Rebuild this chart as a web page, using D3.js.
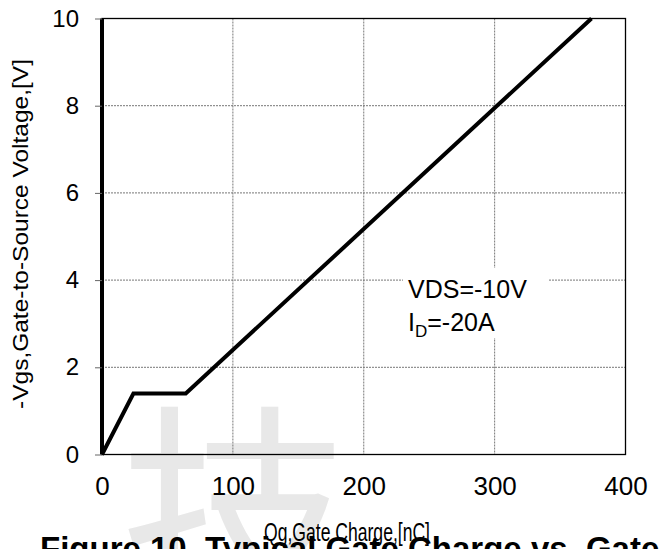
<!DOCTYPE html>
<html>
<head>
<meta charset="utf-8">
<script src="https://cdn.jsdelivr.net/npm/d3@7"></script>
<style>
  body { margin: 0; background: #fff; }
  text { font-family: "Liberation Sans", Arial, sans-serif; fill: #000; }
</style>
</head>
<body>
<svg width="666" height="549"></svg>
<script>

// Datos
let qg = [0, 0, 24, 64, 374]
let vgs = [10, 0, 1.4, 1.4, 10]
let xTicks = [0, 100, 200, 300, 400]
let yTicks = [0, 2, 4, 6, 8, 10]

let puntos = qg.map((q, i) => ({q: q, v: vgs[i]}))

let svg = d3.select('svg')

/* Marca de agua */
svg.append('text')
  .attr('x', 120).attr('y', 600)
  .style('font-family', '"Noto Sans CJK SC"')
  .style('font-size', '230px')
  .style('fill', '#e8e8e8')
  .text('技')

let m = {left: 102, right: 625.5, top: 18.5, bottom: 454.5}

let x = d3.scaleLinear().domain([0, 400]).range([m.left, m.right])
let y = d3.scaleLinear().domain([0, 10]).range([m.bottom, m.top])

let g = svg.append('g')

// rejilla
g.selectAll('line.gx')
  .data(xTicks.slice(1, -1)).enter().append('line')
  .attr('x1', d => x(d)).attr('x2', d => x(d))
  .attr('y1', m.top).attr('y2', m.bottom)
  .attr('stroke', '#777').attr('stroke-width', 1)
  .attr('stroke-dasharray', '2,1')

g.selectAll('line.gy')
  .data(yTicks.slice(1, -1)).enter().append('line')
  .attr('y1', d => y(d)).attr('y2', d => y(d))
  .attr('x1', m.left).attr('x2', m.right)
  .attr('stroke', '#777').attr('stroke-width', 1)
  .attr('stroke-dasharray', '2,1')

// marco
g.append('rect')
  .attr('x', m.left).attr('y', m.top)
  .attr('width', m.right - m.left).attr('height', m.bottom - m.top)
  .attr('fill', 'none').attr('stroke', '#000').attr('stroke-width', 1.3)

// caja de la anotacion
g.append('rect')
  .attr('x', 403).attr('y', 268).attr('width', 145).attr('height', 70)
  .attr('fill', '#fff')

// ejes
let ejeX = d3.axisBottom(x).tickValues(xTicks).tickSize(0).tickPadding(22)
let ejeY = d3.axisLeft(y).tickValues(yTicks).tickSize(7).tickPadding(16)

svg.append('g').attr('transform', `translate(0,${m.bottom})`).call(ejeX)
  .call(a => a.select('.domain').remove())
  .selectAll('text').style('font-size', '26px').attr('fill', '#000')

svg.append('g').attr('transform', `translate(${m.left},0)`).call(ejeY)
  .call(a => a.select('.domain').remove())
  .call(a => a.selectAll('line').attr('stroke', '#666'))
  .selectAll('text').style('font-size', '24px').attr('fill', '#000')

// serie
let linea = d3.line().x(d => x(d.q)).y(d => y(d.v))
g.append('path')
  .datum(puntos)
  .attr('d', linea)
  .attr('fill', 'none')
  .attr('stroke', '#000')
  .attr('stroke-width', 4)
  .attr('stroke-linejoin', 'miter')

// textos
svg.append('text')
  .attr('x', 408).attr('y', 298)
  .style('font-size', '25px')
  .text('VDS=-10V')

let id = svg.append('text')
  .attr('x', 408).attr('y', 331)
  .style('font-size', '25px')
id.append('tspan').text('I')
id.append('tspan').attr('dy', 6).style('font-size', '17px').text('D')
id.append('tspan').attr('dy', -6).text('=-20A')

svg.append('text')
  .attr('transform', 'translate(28,234) rotate(-90)')
  .attr('text-anchor', 'middle')
  .attr('textLength', 350).attr('lengthAdjust', 'spacingAndGlyphs')
  .style('font-size', '22px')
  .text('-Vgs,Gate-to-Source Voltage,[V]')

svg.append('text')
  .attr('x', 40).attr('y', 560)
  .style('font-size', '33px').style('font-weight', 'bold')
  .text('Figure 10. Typical Gate Charge vs. Gate-to-Source Voltage')

svg.append('text')
  .attr('x', 264).attr('y', 541)
  .attr('textLength', 166).attr('lengthAdjust', 'spacingAndGlyphs')
  .style('font-size', '26px')
  .text('Qg,Gate Charge,[nC]')

</script>
</body>
</html>
